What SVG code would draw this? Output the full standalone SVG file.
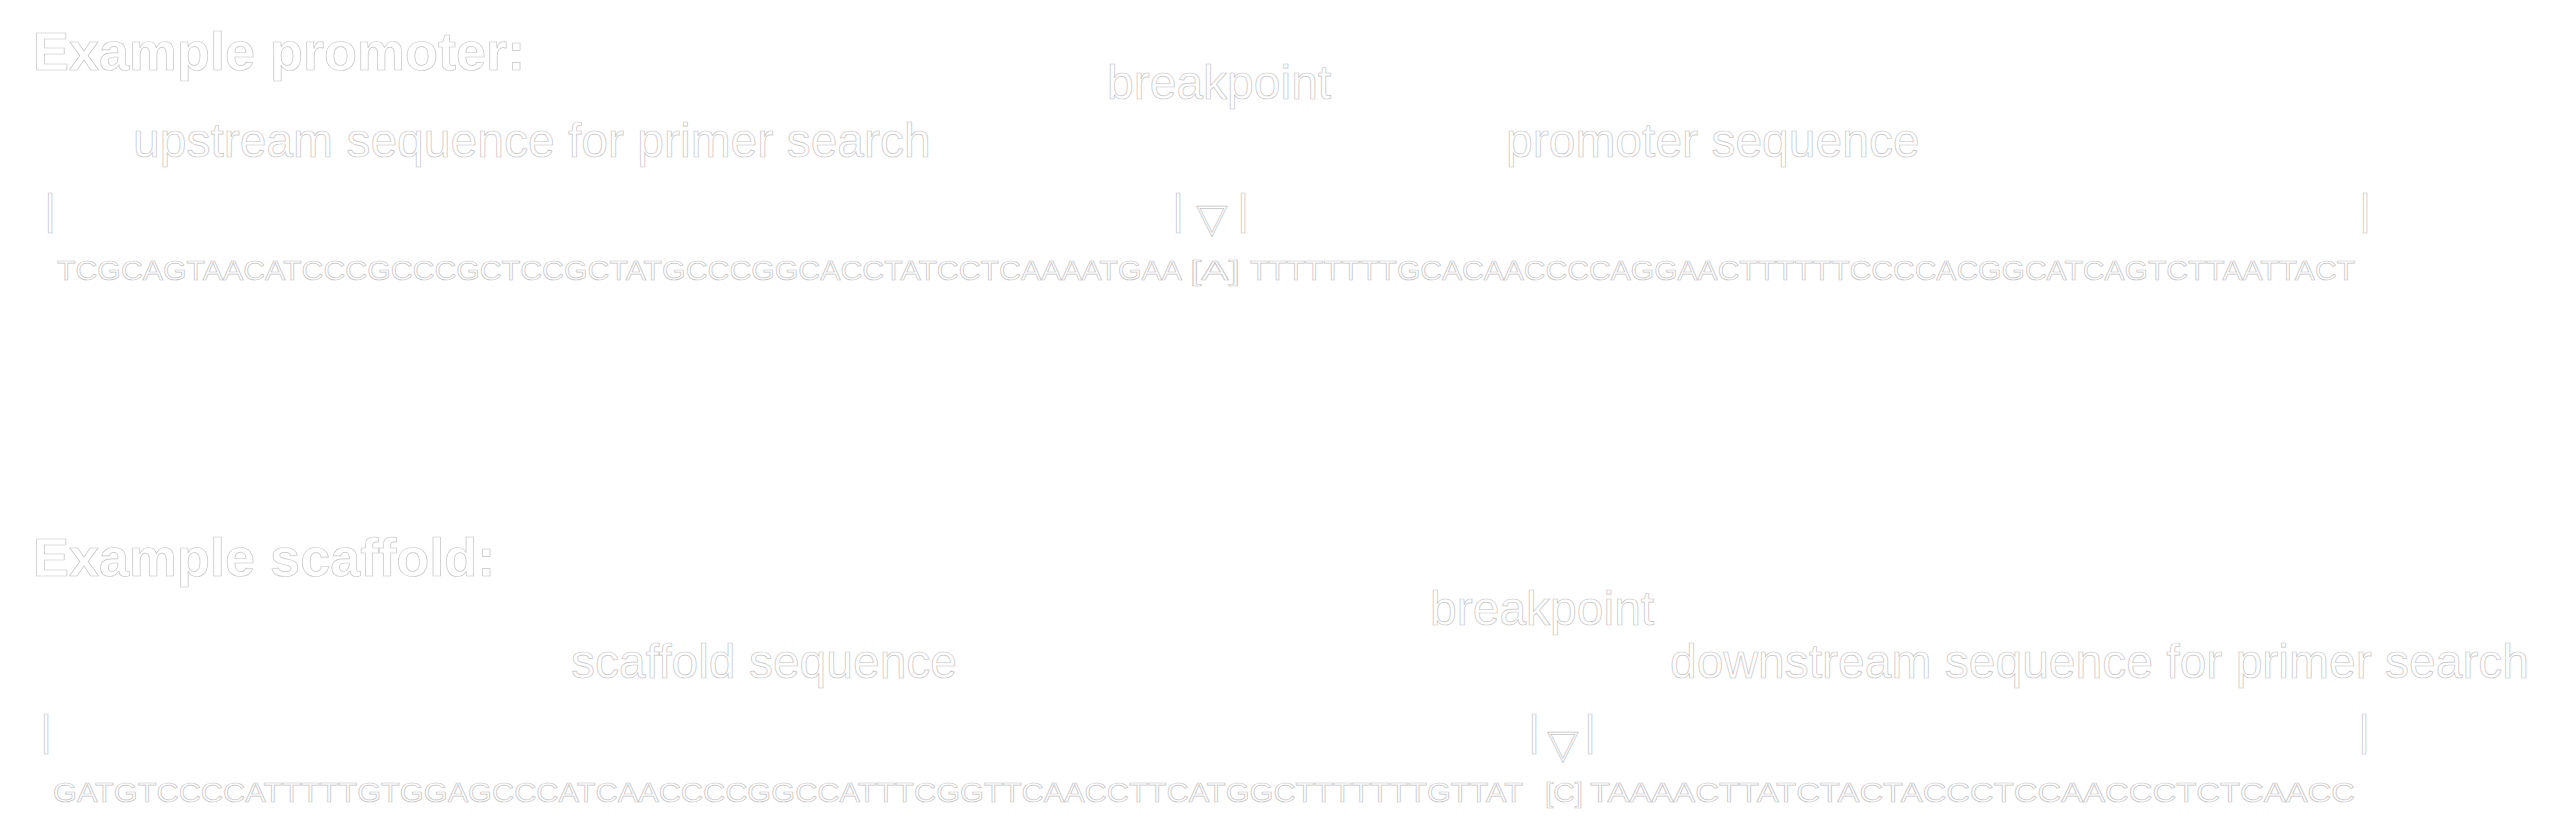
<svg xmlns="http://www.w3.org/2000/svg" width="2567" height="840" viewBox="0 0 2567 840">
<style>
text{font-family:"Liberation Sans",Arial,sans-serif;fill:#ffffff;stroke:#c4c4c4;stroke-width:0.7}
.title{font-size:54px;font-weight:bold}
.lab{font-size:48px}
.bar{font-size:43px;text-anchor:middle}
.tri{font-family:"DejaVu Sans",sans-serif;font-size:40px;text-anchor:middle}
.seq{font-size:28px}
</style>
<g id="promoter">
<text class="title" x="33" y="70">Example promoter:</text>
<text class="lab" x="1107" y="99">breakpoint</text>
<text class="lab" x="133" y="157">upstream sequence for primer search</text>
<text class="lab" x="1506" y="157">promoter sequence</text>
<text class="bar" x="50" y="224">|</text>
<text class="bar" x="1178" y="224">|</text>
<text class="tri" x="1212" y="232">▽</text>
<text class="bar" x="1243" y="224">|</text>
<text class="bar" x="2365" y="224">|</text>
<text class="seq" x="57" y="280" textLength="1125" lengthAdjust="spacingAndGlyphs">TCGCAGTAACATCCCGCCCGCTCCGCTATGCCCGGCACCTATCCTCAAAATGAA</text>
<text class="seq" x="1190" y="280" textLength="50" lengthAdjust="spacingAndGlyphs">[A]</text>
<text class="seq" x="1250" y="280" textLength="1105" lengthAdjust="spacingAndGlyphs">TTTTTTTTGCACAACCCCAGGAACTTTTTTCCCCACGGCATCAGTCTTAATTACT</text>
</g>
<g id="scaffold">
<text class="title" x="33" y="576">Example scaffold:</text>
<text class="lab" x="1430" y="625">breakpoint</text>
<text class="lab" x="571" y="678">scaffold sequence</text>
<text class="lab" x="1670" y="678">downstream sequence for primer search</text>
<text class="bar" x="46" y="745">|</text>
<text class="bar" x="1534" y="745">|</text>
<text class="tri" x="1563" y="758">▽</text>
<text class="bar" x="1590" y="745">|</text>
<text class="bar" x="2364" y="745">|</text>
<text class="seq" x="53" y="802" textLength="1470" lengthAdjust="spacingAndGlyphs">GATGTCCCCATTTTTGTGGAGCCCATCAACCCCGGCCATTTCGGTTCAACCTTCATGGCTTTTTTTGTTAT</text>
<text class="seq" x="1545" y="802" textLength="38" lengthAdjust="spacingAndGlyphs">[C]</text>
<text class="seq" x="1590" y="802" textLength="765" lengthAdjust="spacingAndGlyphs">TAAAACTTATCTACTACCCTCCAACCCTCTCAACC</text>
</g>
</svg>
